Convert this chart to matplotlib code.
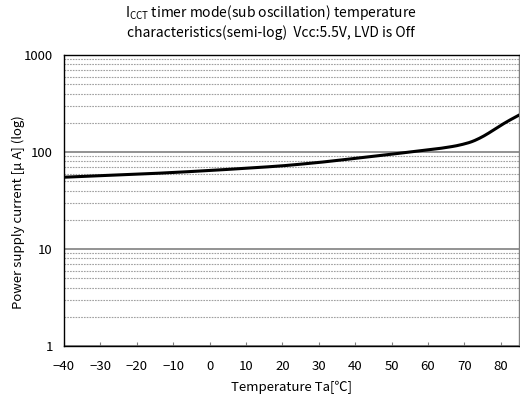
import numpy as np
import matplotlib
matplotlib.use("Agg")
import matplotlib.pyplot as plt
from matplotlib.ticker import LogLocator, FixedLocator, NullFormatter

plt.rcParams['font.family'] = ['Noto Sans CJK JP', 'DejaVu Sans']
plt.rcParams['mathtext.fontset'] = 'custom'
plt.rcParams['mathtext.rm'] = 'Noto Sans CJK JP'

# temperature [C] vs supply current [uA]
temps = [-40, -30, -20, -10, 0, 10, 20, 30, 40, 50, 55, 60, 65, 70, 74, 77.5, 81, 85]
current = [55, 57, 59, 61.5, 64.5, 68, 72, 78, 86, 95, 100, 105, 111, 120, 135, 164, 200, 240]
xticks = [-40, -30, -20, -10, 0, 10, 20, 30, 40, 50, 60, 70, 80]

fig = plt.figure(figsize=(5.2, 4.03), dpi=100)
ax = fig.add_axes([0.123, 0.1414, 0.875, 0.722])

# smooth the read points a bit in log space
xs = np.linspace(-40, 85, 300)
ys = np.interp(xs, temps, np.log(current))
k = np.ones(15) / 15
ys_s = np.convolve(np.pad(ys, 7, mode='reflect', reflect_type='odd'), k, mode='valid')
ax.plot(xs, np.exp(ys_s), color='black', lw=2.2, zorder=3)

ax.set_yscale('log')
ax.set_ylim(1, 1000)
ax.set_xlim(-40, 85)
ax.xaxis.set_major_locator(FixedLocator(xticks))
ax.yaxis.set_major_locator(FixedLocator([1, 10, 100, 1000]))
ax.set_yticklabels(['1', '10', '100', '1000'])
ax.yaxis.set_minor_locator(LogLocator(base=10, subs=np.arange(2, 10)))
ax.yaxis.set_minor_formatter(NullFormatter())

ax.grid(True, which='major', axis='y', color='#808080', lw=1.2)
ax.grid(True, which='minor', axis='y', color='#a0a0a0', lw=0.8, ls=(0, (1.5, 1)))
ax.tick_params(axis='x', direction='in', length=3, labelsize=9.5, pad=10, color='#808080')
ax.tick_params(axis='y', which='both', length=0, labelsize=9.5, pad=8)
for s in ax.spines.values():
    s.set_color('black')
    s.set_linewidth(1.0)
ax.spines['right'].set_color('#808080')

ax.set_xlabel('Temperature Ta[℃]', fontsize=9.5, labelpad=6)
ax.set_ylabel('Power supply current [μ A] (log)', fontsize=9.5)
ax.yaxis.set_label_coords(-0.085, 0.46)
fig.text(0.52, 0.97, r'I$_{\mathrm{CCT}}$ timer mode(sub oscillation) temperature',
         ha='center', va='center', fontsize=10)
fig.text(0.52, 0.918, 'characteristics(semi-log)  Vcc:5.5V, LVD is Off',
         ha='center', va='center', fontsize=10)

fig.savefig('out.png', dpi=100)
